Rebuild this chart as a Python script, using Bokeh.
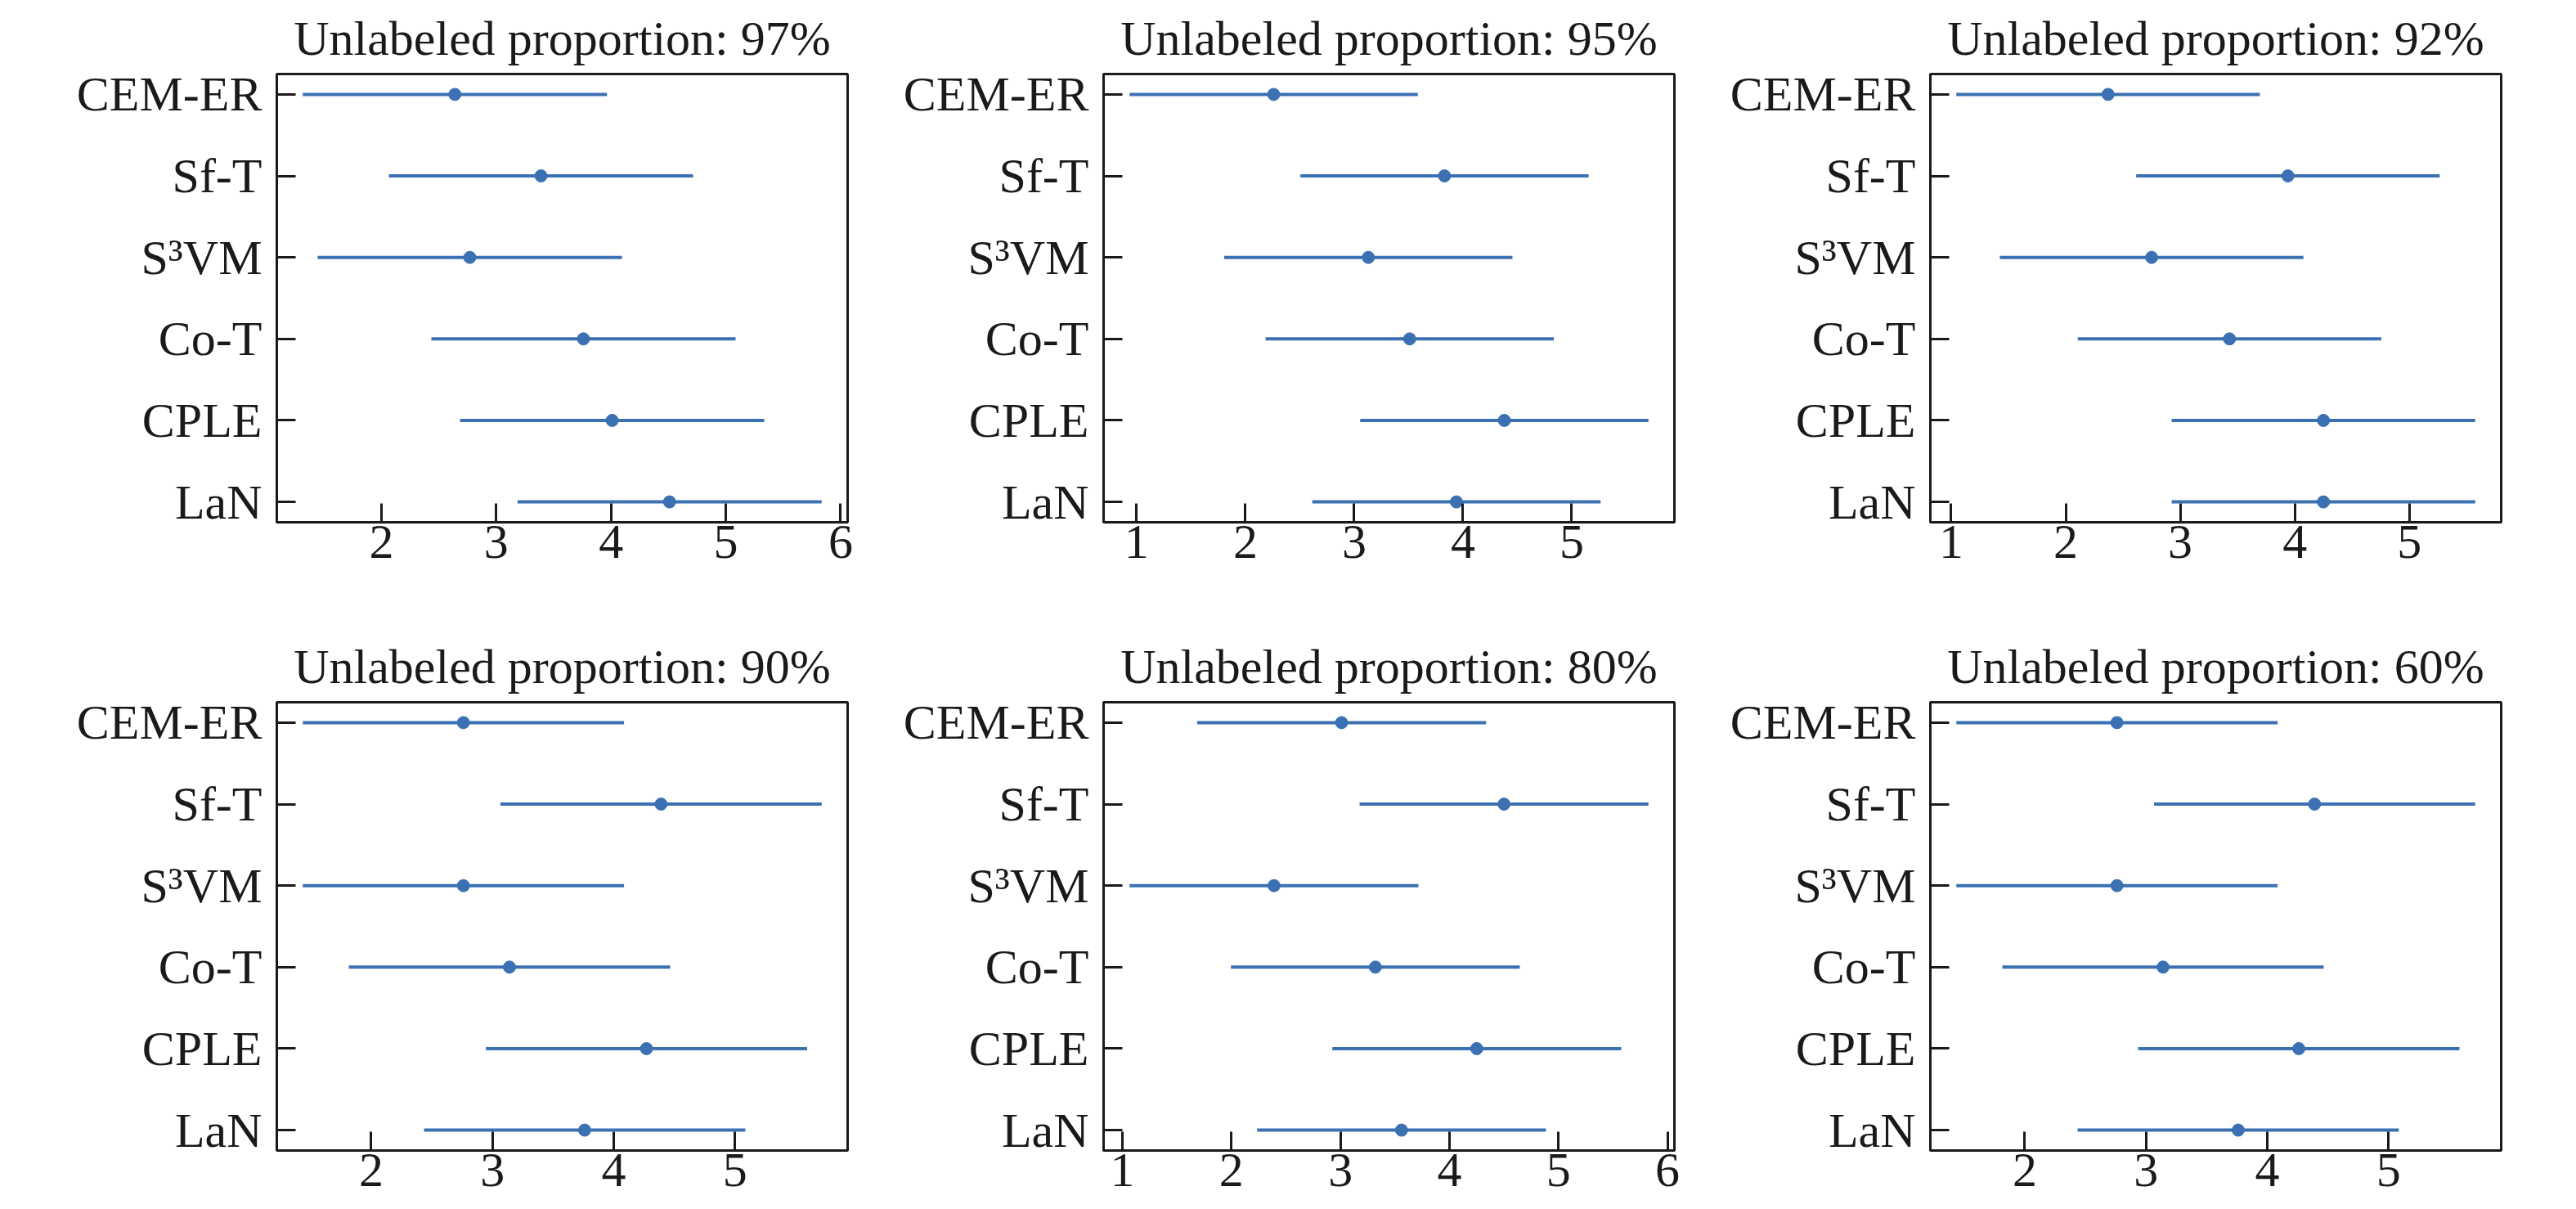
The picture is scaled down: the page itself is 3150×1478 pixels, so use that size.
from bokeh.plotting import figure
from bokeh.models import Range1d, FixedTicker
from bokeh.layouts import row, column
from bokeh.embed import file_html
from bokeh.resources import INLINE

# ---------------- data ----------------
methods = ["CEM-ER", "Sf-T", "S³VM", "Co-T", "CPLE", "LaN"]
proportions = ["97%", "95%", "92%", "90%", "80%", "60%"]

# average ranks per method (order as in `methods`)
ranks_97 = [2.64, 3.39, 2.77, 3.76, 4.01, 4.51]
ranks_95 = [2.26, 3.83, 3.13, 3.51, 4.38, 3.94]
ranks_92 = [2.37, 3.94, 2.75, 3.43, 4.25, 4.25]
ranks_90 = [2.76, 4.39, 2.76, 3.14, 4.27, 3.76]
ranks_80 = [3.01, 4.50, 2.39, 3.32, 4.25, 3.56]
ranks_60 = [2.76, 4.39, 2.76, 3.14, 4.26, 3.76]

critical_difference = 2.65
x_tick_values = [1, 2, 3, 4, 5, 6]

# ---------------- style ----------------
FONT = "Liberation Serif"
FS = "60px"
BLUE = "#3b71b3"
INK = "#1a1a1a"
FRAME_W = 698
FRAME_H = 548


def make_panel(prop, ranks, first_col, bottom_row):
    n = len(methods)
    ys = [n - 1 - i for i in range(n)]
    lo = [r - critical_difference / 2 for r in ranks]
    hi = [r + critical_difference / 2 for r in ranks]
    span = max(hi) - min(lo)
    pad = 0.05 * span

    left_b = 338 if first_col else 303
    right_b = 10
    top_b = 90
    bottom_b = 130 if not bottom_row else 72

    p = figure(
        width=left_b + FRAME_W + right_b,
        height=top_b + FRAME_H + bottom_b,
        x_range=Range1d(min(lo) - pad, max(hi) + pad),
        y_range=Range1d(-0.25, n - 0.75),
        output_backend="svg",
        toolbar_location=None,
        min_border_left=left_b,
        min_border_right=right_b,
        min_border_top=top_b,
        min_border_bottom=bottom_b,
        title="Unlabeled proportion: " + prop,
    )
    p.title.text_font = FONT
    p.title.text_font_size = FS
    p.title.text_font_style = "normal"
    p.title.text_color = INK
    p.title.align = "center"
    p.title.standoff = 22

    p.grid.visible = False
    p.outline_line_color = INK
    p.outline_line_width = 3
    p.outline_line_alpha = 1.0

    p.segment(x0=lo, y0=ys, x1=hi, y1=ys, line_color=BLUE, line_width=4)
    p.scatter(x=ranks, y=ys, size=15, fill_color=BLUE, line_color=BLUE)

    xa = p.xaxis[0]
    xa.ticker = FixedTicker(ticks=x_tick_values)
    ya = p.yaxis[0]
    ya.ticker = FixedTicker(ticks=ys)
    ya.major_label_overrides = {y: m for y, m in zip(ys, methods)}

    for ax in (xa, ya):
        ax.axis_line_color = INK
        ax.axis_line_width = 3
        ax.major_tick_line_color = INK
        ax.major_tick_line_width = 3
        ax.major_tick_in = 23
        ax.major_tick_out = 0
        ax.minor_tick_line_color = None
        ax.major_label_text_font = FONT
        ax.major_label_text_font_size = FS
        ax.major_label_text_color = INK
    xa.major_label_standoff = 4
    ya.major_label_standoff = 18
    return p


all_ranks = [ranks_97, ranks_95, ranks_92, ranks_90, ranks_80, ranks_60]
panels = []
for k, (prop, rk) in enumerate(zip(proportions, all_ranks)):
    panels.append(make_panel(prop, rk, first_col=(k % 3 == 0), bottom_row=(k >= 3)))

layout = column(row(*panels[:3]), row(*panels[3:]))

open("out.html", "w").write(file_html(layout, INLINE))
